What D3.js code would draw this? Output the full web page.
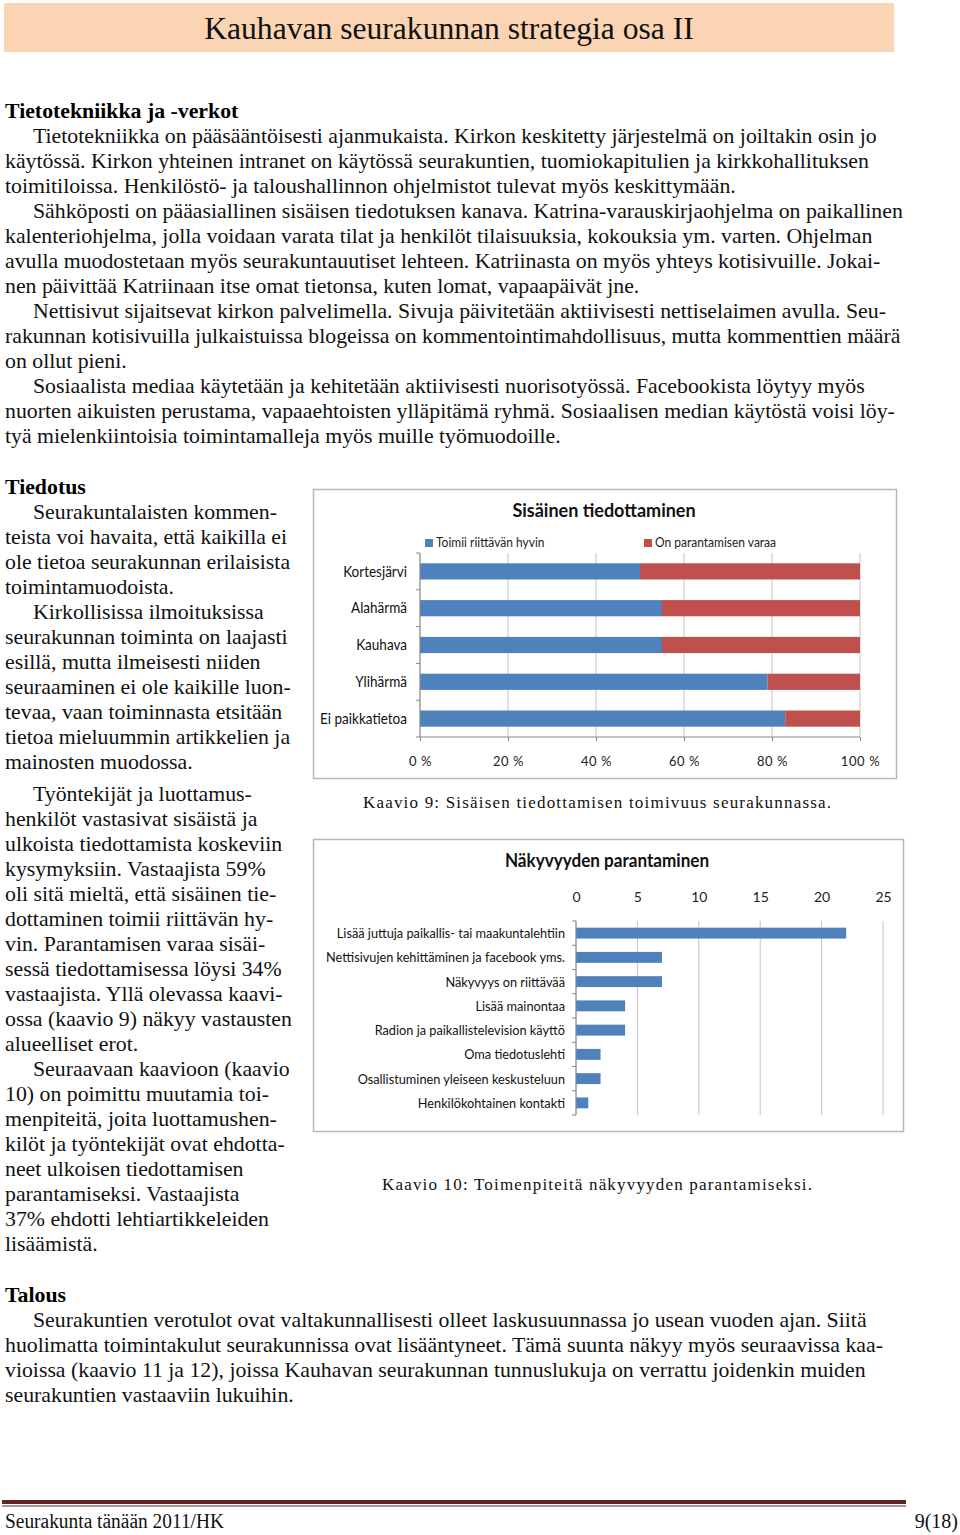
<!DOCTYPE html>
<html>
<head>
<meta charset="utf-8">
<script src="https://cdn.jsdelivr.net/npm/d3@7"></script>
<style>
  html, body { margin: 0; padding: 0; background: #fff; }
  svg { display: block; }
</style>
</head>
<body>
<script>
// ---------- DATA ----------
const areas = ["Kortesjärvi", "Alahärmä", "Kauhava", "Ylihärmä", "Ei paikkatietoa"];
const worksWell = [50, 55, 55, 79, 83];
const needsImprovement = [50, 45, 45, 21, 17];
const seriesNames = ["Toimii riittävän hyvin", "On parantamisen varaa"];
const pctTicks = [0, 20, 40, 60, 80, 100];

const measures = [
  "Lisää juttuja paikallis- tai maakuntalehtiin",
  "Nettisivujen kehittäminen ja facebook yms.",
  "Näkyvyys on riittävää",
  "Lisää mainontaa",
  "Radion ja paikallistelevision käyttö",
  "Oma tiedotuslehti",
  "Osallistuminen yleiseen keskusteluun",
  "Henkilökohtainen kontakti"
];
const counts = [22, 7, 7, 4, 4, 2, 2, 1];
const countTicks = [0, 5, 10, 15, 20, 25];

const chart1Title = "Sisäinen tiedottaminen";
const chart2Title = "Näkyvyyden parantaminen";
const caption1 = "Kaavio 9: Sisäisen tiedottamisen toimivuus seurakunnassa.";
const caption2 = "Kaavio 10: Toimenpiteitä näkyvyyden parantamiseksi.";

const pageTitle = "Kauhavan seurakunnan strategia osa II";
const heading1 = "Tietotekniikka ja -verkot";
const text1 = [
  [1, "Tietotekniikka on pääsääntöisesti ajanmukaista. Kirkon keskitetty järjestelmä on joiltakin osin jo"],
  [0, "käytössä. Kirkon yhteinen intranet on käytössä seurakuntien, tuomiokapitulien ja kirkkohallituksen"],
  [0, "toimitiloissa. Henkilöstö- ja taloushallinnon ohjelmistot tulevat myös keskittymään."],
  [1, "Sähköposti on pääasiallinen sisäisen tiedotuksen kanava. Katrina-varauskirjaohjelma on paikallinen"],
  [0, "kalenteriohjelma, jolla voidaan varata tilat ja henkilöt tilaisuuksia, kokouksia ym. varten. Ohjelman"],
  [0, "avulla muodostetaan myös seurakuntauutiset lehteen. Katriinasta on myös yhteys kotisivuille. Jokai-"],
  [0, "nen päivittää Katriinaan itse omat tietonsa, kuten lomat, vapaapäivät jne."],
  [1, "Nettisivut sijaitsevat kirkon palvelimella. Sivuja päivitetään aktiivisesti nettiselaimen avulla. Seu-"],
  [0, "rakunnan kotisivuilla julkaistuissa blogeissa on kommentointimahdollisuus, mutta kommenttien määrä"],
  [0, "on ollut pieni."],
  [1, "Sosiaalista mediaa käytetään ja kehitetään aktiivisesti nuorisotyössä. Facebookista löytyy myös"],
  [0, "nuorten aikuisten perustama, vapaaehtoisten ylläpitämä ryhmä. Sosiaalisen median käytöstä voisi löy-"],
  [0, "tyä mielenkiintoisia toimintamalleja myös muille työmuodoille."]
];
const heading2 = "Tiedotus";
const text2a = [
  [1, "Seurakuntalaisten kommen-"],
  [0, "teista voi havaita, että kaikilla ei"],
  [0, "ole tietoa seurakunnan erilaisista"],
  [0, "toimintamuodoista."],
  [1, "Kirkollisissa ilmoituksissa"],
  [0, "seurakunnan toiminta on laajasti"],
  [0, "esillä, mutta ilmeisesti niiden"],
  [0, "seuraaminen ei ole kaikille luon-"],
  [0, "tevaa, vaan toiminnasta etsitään"],
  [0, "tietoa mieluummin artikkelien ja"],
  [0, "mainosten muodossa."]
];
const text2b = [
  [1, "Työntekijät ja luottamus-"],
  [0, "henkilöt vastasivat sisäistä ja"],
  [0, "ulkoista tiedottamista koskeviin"],
  [0, "kysymyksiin. Vastaajista 59%"],
  [0, "oli sitä mieltä, että sisäinen tie-"],
  [0, "dottaminen toimii riittävän hy-"],
  [0, "vin. Parantamisen varaa sisäi-"],
  [0, "sessä tiedottamisessa löysi 34%"],
  [0, "vastaajista. Yllä olevassa kaavi-"],
  [0, "ossa (kaavio 9) näkyy vastausten"],
  [0, "alueelliset erot."],
  [1, "Seuraavaan kaavioon (kaavio"],
  [0, "10) on poimittu muutamia toi-"],
  [0, "menpiteitä, joita luottamushen-"],
  [0, "kilöt ja työntekijät ovat ehdotta-"],
  [0, "neet ulkoisen tiedottamisen"],
  [0, "parantamiseksi. Vastaajista"],
  [0, "37% ehdotti lehtiartikkeleiden"],
  [0, "lisäämistä."]
];
const heading3 = "Talous";
const text3 = [
  [1, "Seurakuntien verotulot ovat valtakunnallisesti olleet laskusuunnassa jo usean vuoden ajan. Siitä"],
  [0, "huolimatta toimintakulut seurakunnissa ovat lisääntyneet. Tämä suunta näkyy myös seuraavissa kaa-"],
  [0, "vioissa (kaavio 11 ja 12), joissa Kauhavan seurakunnan tunnuslukuja on verrattu joidenkin muiden"],
  [0, "seurakuntien vastaaviin lukuihin."]
];
const footerLeft = "Seurakunta tänään 2011/HK";
const footerRight = "9(18)";

// ---------- STYLE ----------
const BLUE = "#4F81BD", RED = "#C0504D";
const SERIF = "'Liberation Serif', 'Times New Roman', serif";
const CHARTFONT = "Lato, 'Open Sans', sans-serif";
const BODY_SIZE = 21.8, LINE = 25;
const INDENT_X = 33, LEFT_X = 5;

const svg = d3.select("body").append("svg").attr("width", 960).attr("height", 1535);
svg.append("rect").attr("width", 960).attr("height", 1535).attr("fill", "#fff");

function condense(sel, k) {
  sel.each(function () {
    const L = this.getComputedTextLength();
    d3.select(this).attr("textLength", L * k).attr("lengthAdjust", "spacingAndGlyphs");
  });
}

// ---------- HEADER ----------
svg.append("rect").attr("x", 4).attr("y", 3).attr("width", 890).attr("height", 49).attr("fill", "#FBD4B4");
svg.append("text").attr("x", 449).attr("y", 39).attr("text-anchor", "middle")
  .attr("font-family", SERIF).attr("font-size", 31.6).attr("fill", "#111").text(pageTitle);

// ---------- BODY TEXT ----------
function heading(txt, y) {
  return svg.append("text").attr("x", LEFT_X).attr("y", y + 7)
    .attr("font-family", SERIF).attr("font-size", BODY_SIZE).attr("font-weight", "bold").attr("fill", "#000").text(txt);
}
function para(lines, y0) {
  return svg.append("g").selectAll("text").data(lines).join("text")
    .attr("x", d => d[0] ? INDENT_X : LEFT_X)
    .attr("y", (d, i) => y0 + i * LINE + 7)
    .attr("font-family", SERIF).attr("font-size", BODY_SIZE).attr("fill", "#111")
    .text(d => d[1]);
}
heading(heading1, 111);
para(text1, 136);
heading(heading2, 487);
para(text2a, 512);
para(text2b, 794);
heading(heading3, 1295);
para(text3, 1320);

// ---------- CHART 1 ----------
const c1 = svg.append("g");
c1.append("rect").attr("x", 313.5).attr("y", 489.5).attr("width", 583).attr("height", 289)
  .attr("fill", "#fff").attr("stroke", "#b8b8b8").attr("stroke-width", 1.5);
c1.append("text").attr("x", 604).attr("y", 517).attr("text-anchor", "middle")
  .attr("font-family", CHARTFONT).attr("font-weight", "bold").attr("font-size", 18).attr("fill", "#111").text(chart1Title);

const x1 = d3.scaleLinear().domain([0, 100]).range([420, 860]);
const y1 = d3.scaleBand().domain(areas).range([553, 737]).paddingInner(0.56).paddingOuter(0.28);

// gridlines
c1.append("g").selectAll("line").data(pctTicks).join("line")
  .attr("x1", d => x1(d)).attr("x2", d => x1(d)).attr("y1", 553).attr("y2", 737)
  .attr("stroke", "#c4c4c4").attr("stroke-width", 1);

// stacked bars
const rows = areas.map((a, i) => ({ area: a, [seriesNames[0]]: worksWell[i], [seriesNames[1]]: needsImprovement[i] }));
const stack1 = d3.stack().keys(seriesNames)(rows);
const col1 = d3.scaleOrdinal().domain(seriesNames).range([BLUE, RED]);
c1.append("g").selectAll("g").data(stack1).join("g").attr("fill", d => col1(d.key))
  .selectAll("rect").data(d => d).join("rect")
  .attr("x", d => x1(d[0])).attr("width", d => x1(d[1]) - x1(d[0]))
  .attr("y", d => y1(d.data.area)).attr("height", y1.bandwidth());

// axes
c1.append("line").attr("x1", 420).attr("x2", 420).attr("y1", 553).attr("y2", 737).attr("stroke", "#888");
c1.append("line").attr("x1", 420).attr("x2", 860).attr("y1", 737).attr("y2", 737).attr("stroke", "#888");
const step1 = y1.step();
c1.append("g").selectAll("line").data(d3.range(areas.length + 1)).join("line")
  .attr("x1", 416).attr("x2", 420).attr("y1", i => 553 + i * step1).attr("y2", i => 553 + i * step1).attr("stroke", "#888");

const xAxis1 = c1.append("g").attr("transform", "translate(0,737)")
  .call(d3.axisBottom(x1).tickValues(pctTicks).tickFormat(d => d + " %").tickSize(4).tickPadding(16));
xAxis1.select(".domain").remove();
xAxis1.selectAll("line").attr("stroke", "#888");
xAxis1.selectAll("text").attr("font-family", CHARTFONT).attr("font-size", 13).attr("fill", "#222")
  .attr("letter-spacing", 0.6);

const yl1 = c1.append("g").selectAll("text").data(areas).join("text")
  .attr("x", 407).attr("y", d => y1(d) + y1.bandwidth() / 2).attr("dy", "0.35em").attr("text-anchor", "end")
  .attr("font-family", CHARTFONT).attr("font-size", 15).attr("fill", "#111").text(d => d);
condense(yl1, 0.9);

// legend
const lg = c1.append("g").selectAll("g").data(seriesNames).join("g")
  .attr("transform", (d, i) => `translate(${i === 0 ? 425 : 644},543)`);
lg.append("rect").attr("x", 0).attr("y", -4).attr("width", 8).attr("height", 8).attr("fill", d => col1(d));
const lgt = lg.append("text").attr("x", 11).attr("dy", "0.35em").attr("font-family", CHARTFONT)
  .attr("font-size", 12.5).attr("fill", "#222").text(d => d);
condense(lgt, 0.96);

// caption 1
svg.append("text").attr("x", 363).attr("y", 808).attr("font-family", SERIF).attr("font-size", 17)
  .attr("fill", "#111").attr("textLength", 468).attr("lengthAdjust", "spacing").text(caption1);

// ---------- CHART 2 ----------
const c2 = svg.append("g");
c2.append("rect").attr("x", 313.5).attr("y", 839.5).attr("width", 590).attr("height", 292)
  .attr("fill", "#fff").attr("stroke", "#b8b8b8").attr("stroke-width", 1.5);
const t2 = c2.append("text").attr("x", 607).attr("y", 867).attr("text-anchor", "middle")
  .attr("font-family", CHARTFONT).attr("font-weight", "bold").attr("font-size", 18).attr("fill", "#111").text(chart2Title);
condense(t2, 0.95);

const x2 = d3.scaleLinear().domain([0, 25]).range([576, 883]);
const y2 = d3.scaleBand().domain(measures).range([921, 1115]).paddingInner(0.55).paddingOuter(0.275);

c2.append("g").selectAll("line").data(countTicks).join("line")
  .attr("x1", d => x2(d)).attr("x2", d => x2(d)).attr("y1", 921).attr("y2", 1115)
  .attr("stroke", "#c4c4c4").attr("stroke-width", 1);

c2.append("g").selectAll("rect").data(measures).join("rect")
  .attr("x", x2(0)).attr("y", d => y2(d)).attr("height", y2.bandwidth())
  .attr("width", (d, i) => x2(counts[i]) - x2(0)).attr("fill", BLUE);

c2.append("line").attr("x1", 576).attr("x2", 576).attr("y1", 921).attr("y2", 1115).attr("stroke", "#888");
const step2 = y2.step();
c2.append("g").selectAll("line").data(d3.range(measures.length + 1)).join("line")
  .attr("x1", 572).attr("x2", 576).attr("y1", i => 921 + i * step2).attr("y2", i => 921 + i * step2).attr("stroke", "#888");

const xAxis2 = c2.append("g").attr("transform", "translate(0,921)")
  .call(d3.axisTop(x2).tickValues(countTicks).tickSize(0).tickPadding(19));
xAxis2.select(".domain").remove();
xAxis2.selectAll("text").attr("font-family", CHARTFONT).attr("font-size", 14).attr("fill", "#222");

const yl2 = c2.append("g").selectAll("text").data(measures).join("text")
  .attr("x", 565).attr("y", d => y2(d) + y2.bandwidth() / 2).attr("dy", "0.35em").attr("text-anchor", "end")
  .attr("font-family", CHARTFONT).attr("font-size", 14).attr("fill", "#111").text(d => d);
condense(yl2, 0.91);

svg.append("text").attr("x", 382).attr("y", 1190).attr("font-family", SERIF).attr("font-size", 17)
  .attr("fill", "#111").attr("textLength", 430).attr("lengthAdjust", "spacing").text(caption2);

// ---------- FOOTER ----------
svg.append("rect").attr("x", 2).attr("y", 1500).attr("width", 904).attr("height", 4).attr("fill", "#632523");
svg.append("rect").attr("x", 2).attr("y", 1505.5).attr("width", 904).attr("height", 1).attr("fill", "#632523");
svg.append("text").attr("x", 5).attr("y", 1528).attr("font-family", SERIF).attr("font-size", 20)
  .attr("fill", "#111").attr("textLength", 219).attr("lengthAdjust", "spacingAndGlyphs").text(footerLeft);
svg.append("text").attr("x", 958).attr("y", 1528).attr("text-anchor", "end").attr("font-family", SERIF)
  .attr("font-size", 20).attr("fill", "#111").text(footerRight);
</script>
</body>
</html>
